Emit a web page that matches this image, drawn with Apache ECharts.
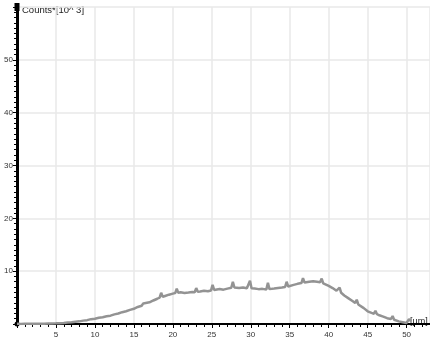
<!DOCTYPE html>
<html><head><meta charset="utf-8">
<script src="https://cdn.jsdelivr.net/npm/echarts@6/dist/echarts.min.js"></script>
<style>html,body{margin:0;padding:0;background:#fff}#c{width:430px;height:339px}</style>
</head><body><div id="c"></div>
<script>
var xs = [0,0.5,1,1.5,2,2.5,3,3.5,4,4.5,5,5.5,6,6.5,7,7.5,8,8.5,9,9.5,10,10.5,11,11.5,12,12.5,13,13.5,14,14.5,15,15.5,16,16.2,16.4,17,17.5,18,18.3,18.5,18.7,19,19.5,20,20.3,20.5,20.7,21,21.5,22,22.5,22.8,23,23.2,23.5,24,24.5,24.9,25.1,25.3,25.5,26,26.5,27,27.5,27.7,27.9,28.5,29,29.5,29.7,29.9,30.1,30.5,31,31.5,32,32.2,32.4,33,33.5,34,34.4,34.6,34.8,35.5,36,36.5,36.7,36.9,37.5,38,38.5,38.9,39.1,39.3,39.5,40,40.5,41,41.2,41.4,41.6,42,42.5,43,43.4,43.6,43.8,44,44.5,45,45.5,45.8,46,46.2,46.5,47,47.5,48,48.2,48.4,49,49.5,50,50.3,50.6];
var ys = [0.05,0.02,0.05,0.03,0.05,0.04,0.06,0.05,0.08,0.1,0.12,0.15,0.2,0.27,0.33,0.44,0.5,0.64,0.73,0.92,0.98,1.17,1.28,1.47,1.58,1.82,1.98,2.24,2.42,2.68,2.88,3.22,3.45,3.9,3.55,4.1,4.45,4.78,5.0,5.9,5.15,5.3,5.55,5.75,5.85,6.7,5.9,6.0,5.88,5.95,6.05,6.0,6.8,6.1,6.15,6.3,6.2,6.35,7.4,6.45,6.5,6.62,6.5,6.7,6.85,8.0,6.9,6.8,6.9,6.75,6.8,8.2,6.75,6.7,6.6,6.65,6.55,7.8,6.6,6.7,6.8,6.9,7.0,8.0,7.1,7.4,7.6,7.75,8.7,7.85,8.0,8.1,8.0,7.9,8.6,7.7,7.6,7.2,6.8,6.3,6.1,6.9,5.9,5.4,4.9,4.4,4.0,4.6,3.7,3.4,3.0,2.4,2.1,1.95,2.5,1.85,1.65,1.4,1.1,0.95,1.5,0.8,0.5,0.35,0.2,0.9,0.5];
var xTickLabels = ['5','10','15','20','25','30','35','40','45','50'];
var yTickLabels = ['10','20','30','40','50'];
var yTitle = 'Counts*[10^ 3]';
var xUnit = '[µm]';

var data = xs.map(function(x,i){return [x, ys[i]];});
var chart = echarts.init(document.getElementById('c'), null, {renderer:'canvas'});
var font = 'Liberation Sans, Arial, sans-serif';
chart.setOption({
  animation:false,
  backgroundColor:'#fff',
  grid:{left:17,right:0,top:7,bottom:10,containLabel:false},
  xAxis:{
    type:'value',min:0,max:53,interval:5,
    axisLine:{show:true,onZero:false,lineStyle:{color:'#000',width:2}},
    axisTick:{show:true,length:4,lineStyle:{color:'#000',width:1}},
    minorTick:{show:true,splitNumber:5,length:3,lineStyle:{color:'#000',width:1}},
    axisLabel:{margin:7,fontSize:8,color:'#333',fontFamily:font,showMinLabel:false,showMaxLabel:false,
      formatter:function(v){var s=String(v);return xTickLabels.indexOf(s)>=0?s:'';}},
    splitLine:{show:true,lineStyle:{color:'#e8e8e8',width:1.5}}
  },
  yAxis:{
    type:'value',min:0,max:60,interval:10,
    axisLine:{show:true,onZero:false,symbol:['circle','rect'],symbolSize:[5,8],lineStyle:{color:'#000',width:3}},
    axisTick:{show:true,length:4,lineStyle:{color:'#000',width:1}},
    minorTick:{show:true,splitNumber:10,length:3,lineStyle:{color:'#000',width:1}},
    axisLabel:{margin:4,fontSize:8,color:'#333',fontFamily:font,showMinLabel:false,showMaxLabel:false,
      formatter:function(v){var s=String(v);return yTickLabels.indexOf(s)>=0?s:'';}},
    splitLine:{show:true,lineStyle:{color:'#e8e8e8',width:1.5}}
  },
  graphic:[
    {type:'text',left:22,top:5,style:{text:yTitle,fontSize:9.5,fill:'#222',fontFamily:font}},
    {type:'text',left:410,top:317,style:{text:xUnit,fontSize:9,fill:'#222',fontFamily:font}}
  ],
  series:[{
    type:'line',data:data,showSymbol:false,symbol:'none',
    lineStyle:{color:'#939393',width:2.5},
    z:3
  }]
});
</script></body></html>
